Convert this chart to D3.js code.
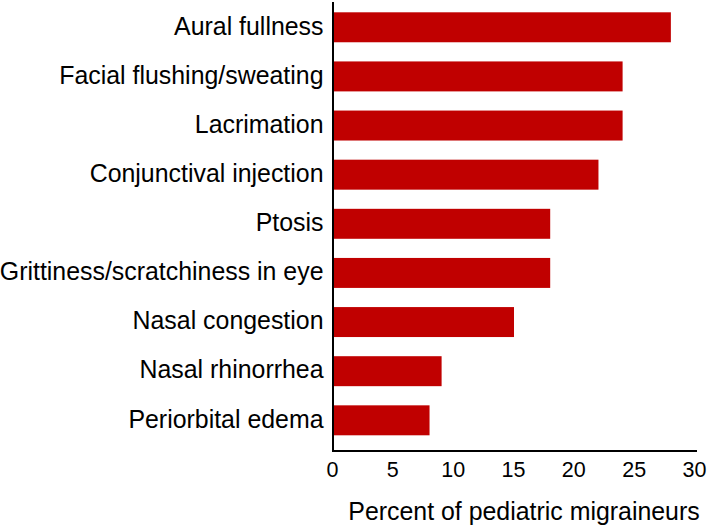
<!DOCTYPE html>
<html>
<head>
<meta charset="utf-8">
<script src="https://cdn.jsdelivr.net/npm/d3@7"></script>
<style>
  html, body { margin: 0; padding: 0; background: #fff; }
  svg { display: block; }
  text { font-family: "Liberation Sans", Arial, Helvetica, sans-serif; fill: #000; }
</style>
</head>
<body>
<svg id="chart" width="708" height="527"></svg>
<script>
const categories = [
  "Aural fullness",
  "Facial flushing/sweating",
  "Lacrimation",
  "Conjunctival injection",
  "Ptosis",
  "Grittiness/scratchiness in eye",
  "Nasal congestion",
  "Nasal rhinorrhea",
  "Periorbital edema"
];
const values = [28, 24, 24, 22, 18, 18, 15, 9, 8];
const xTicks = [0, 5, 10, 15, 20, 25, 30];
const xTitle = "Percent of pediatric migraineurs";

const svg = d3.select("#chart");
const axisX = 333, axisY = 451, axisTop = 2;

const x = d3.scaleLinear().domain([0, 30]).range([axisX, 695]);
const y = d3.scaleBand().domain(categories).range([12.3, 435.3]).paddingInner(0.39).paddingOuter(0);

// bars
svg.append("g").selectAll("rect")
  .data(categories)
  .join("rect")
  .attr("x", x(0))
  .attr("y", d => y(d))
  .attr("width", (d, i) => x(values[i]) - x(0))
  .attr("height", y.bandwidth())
  .attr("fill", "#C00000");

// category labels
svg.append("g").selectAll("text")
  .data(categories)
  .join("text")
  .attr("x", 323.5)
  .attr("y", d => y(d) + y.bandwidth() / 2 + 7.3)
  .attr("text-anchor", "end")
  .style("font-size", "24.9px")
  .text(d => d);

// axes lines
svg.append("line")
  .attr("x1", axisX).attr("x2", axisX)
  .attr("y1", axisTop).attr("y2", axisY + 1)
  .attr("stroke", "#000").attr("stroke-width", 2);
svg.append("line")
  .attr("x1", axisX - 1).attr("x2", 697)
  .attr("y1", axisY).attr("y2", axisY)
  .attr("stroke", "#000").attr("stroke-width", 2);

// x tick labels
svg.append("g").selectAll("text")
  .data(xTicks)
  .join("text")
  .attr("x", d => x(d) - 0.5)
  .attr("y", 477)
  .attr("text-anchor", "middle")
  .style("font-size", "21.5px")
  .text(d => d);

// x title
svg.append("text")
  .attr("x", 524)
  .attr("y", 520)
  .attr("text-anchor", "middle")
  .style("font-size", "24.9px")
  .text(xTitle);
</script>
</body>
</html>
